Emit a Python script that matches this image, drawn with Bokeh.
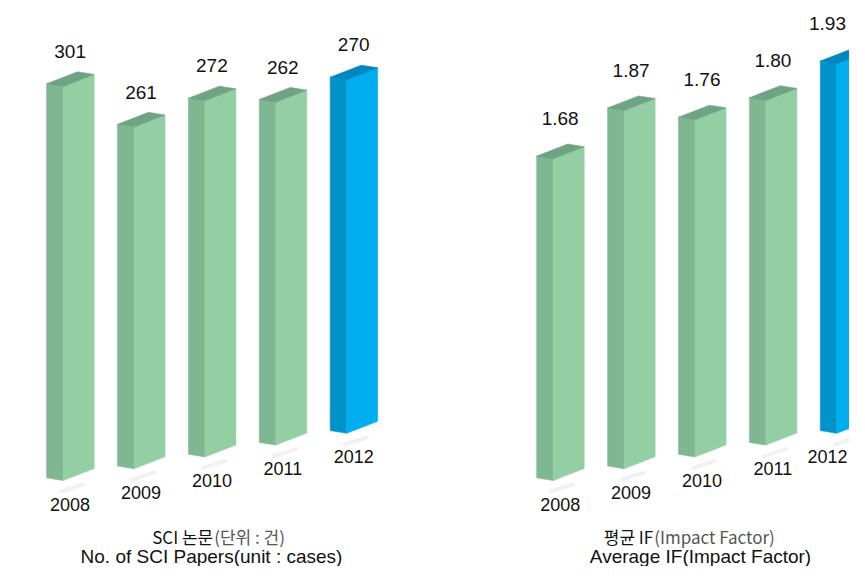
from bokeh.plotting import figure
from bokeh.models import Range1d, ColumnDataSource
from bokeh.core.properties import value
from bokeh.embed import file_html
from bokeh.resources import INLINE

# ---------------- data ----------------
years = ["2008", "2009", "2010", "2011", "2012"]
sci_papers = [301, 261, 272, 262, 270]
sci_labels = ["301", "261", "272", "262", "270"]
avg_if = [1.68, 1.87, 1.76, 1.80, 1.93]
if_labels = ["1.68", "1.87", "1.76", "1.80", "1.93"]
highlight = [False, False, False, False, True]

left_title_ko = ["SCI 논문", "(단위 : 건)"]
left_title_en = "No. of SCI Papers(unit : cases)"
right_title_ko = ["평균 IF", "(Impact Factor)"]
right_title_en = "Average IF(Impact Factor)"

# ---------------- layout / style ----------------
W, H = 849, 566
ZERO_Y = 480.0               # pixel y (from top) of the first bar's base
PX_PAPER = 1.309             # px per paper
PX_IF = 191.5                # px per IF point
STEP_X = 70.9
LEFT_X0 = 62.6
RIGHT_X0 = 552.7
RISE = 11.8                  # perspective rise of each next bar
LW, LDY = 16.5, 2.7          # left face width / slant
RW, RDY = 31.0, 12.0         # right face width / slant
LABEL_XMAX = W - 22          # keep right-most labels inside the canvas

GREEN = dict(left="#7fb792", right="#93cfa3", top="#6fa383")
BLUE = dict(left="#0093c9", right="#00aeef", top="#0086bd")
FONT = "Liberation Sans"
KFONT = "Noto Sans CJK KR"


def rng(s):
    end = ZERO_Y / s
    return end - H / s, end


ps, pe = rng(PX_PAPER)
fs, fe = rng(PX_IF)

p = figure(width=W, height=H, output_backend="svg", toolbar_location=None,
           x_range=Range1d(0, W), y_range=Range1d(ps, pe),
           x_axis_type=None, y_axis_type=None,
           min_border=0, min_border_left=0, min_border_right=0,
           min_border_top=0, min_border_bottom=0,
           outline_line_color=None, background_fill_color="white",
           border_fill_color="white")
p.extra_y_ranges = {"if": Range1d(fs, fe)}
p.grid.visible = False


def px_to_units(py, s, end):
    return end - py / s


def draw_chart(vals, labels, x0, s, range_name, label_off):
    faces = {"left": dict(xs=[], ys=[], c=[]),
             "right": dict(xs=[], ys=[], c=[]),
             "top": dict(xs=[], ys=[], c=[])}
    sh = dict(x0=[], y0=[], x1=[], y1=[])
    vl = dict(x=[], y=[], t=[])
    yl = dict(x=[], y=[], t=[])
    for i, v in enumerate(vals):
        pal = BLUE if highlight[i] else GREEN
        fx = x0 + STEP_X * i
        base = RISE * i / s
        top = base + v
        faces["left"]["xs"].append([fx - LW, fx, fx, fx - LW])
        faces["left"]["ys"].append([base + LDY / s, base, top, top + LDY / s])
        faces["left"]["c"].append(pal["left"])
        faces["right"]["xs"].append([fx, fx + RW, fx + RW, fx])
        faces["right"]["ys"].append([base, base + RDY / s, top + RDY / s, top])
        faces["right"]["c"].append(pal["right"])
        faces["top"]["xs"].append([fx - LW, fx, fx + RW, fx + RW - LW])
        faces["top"]["ys"].append([top + LDY / s, top, top + RDY / s, top + (RDY + LDY) / s])
        faces["top"]["c"].append(pal["top"])
        sh["x0"].append(fx - 2); sh["y0"].append(base - 11 / s)
        sh["x1"].append(fx + 20); sh["y1"].append(base - 4 / s)
        lx = min(fx + 7, LABEL_XMAX)
        vl["x"].append(lx); vl["y"].append(top + label_off / s); vl["t"].append(labels[i])
        yl["x"].append(lx); yl["y"].append(base - 23.5 / s); yl["t"].append(years[i])

    kw = {} if range_name is None else {"y_range_name": range_name}
    p.segment(x0="x0", y0="y0", x1="x1", y1="y1", source=ColumnDataSource(sh),
              line_color="#e4e4e4", line_width=4, line_alpha=0.5, line_cap="round", **kw)
    for k in ("left", "right", "top"):
        src = ColumnDataSource(faces[k])
        p.patches(xs="xs", ys="ys", source=src, fill_color="c", line_color="c",
                  line_width=0.6, **kw)
    p.text(x="x", y="y", text="t", source=ColumnDataSource(vl),
           text_font=value(FONT), text_font_size="19px", text_color="#111111",
           text_align="center", text_baseline="middle", **kw)
    p.text(x="x", y="y", text="t", source=ColumnDataSource(yl),
           text_font=value(FONT), text_font_size="18px", text_color="#111111",
           text_align="center", text_baseline="middle", **kw)


draw_chart(sci_papers, sci_labels, LEFT_X0, PX_PAPER, None, 35.0)
draw_chart(avg_if, if_labels, RIGHT_X0, PX_IF, "if", 40.0)


def title(xsplit, xcenter, ko, en):
    y1 = px_to_units(536.0, PX_PAPER, pe)
    y2 = px_to_units(556.0, PX_PAPER, pe)
    p.text(x=[xsplit], y=[y1], text=[ko[0]], text_font=value(KFONT),
           text_font_size="17px", text_color="#111111", text_align="right",
           text_baseline="middle")
    p.text(x=[xsplit + 1], y=[y1], text=[ko[1]], text_font=value(KFONT),
           text_font_size="17px", text_color="#555555", text_align="left",
           text_baseline="middle")
    p.text(x=[xcenter], y=[y2], text=[en], text_font=value(FONT),
           text_font_size="19px", text_color="#111111", text_align="center",
           text_baseline="middle")


title(212.7, 211.0, left_title_ko, left_title_en)
title(652.7, 700.0, right_title_ko, right_title_en)

open("out.html", "w").write(file_html(p, INLINE))
